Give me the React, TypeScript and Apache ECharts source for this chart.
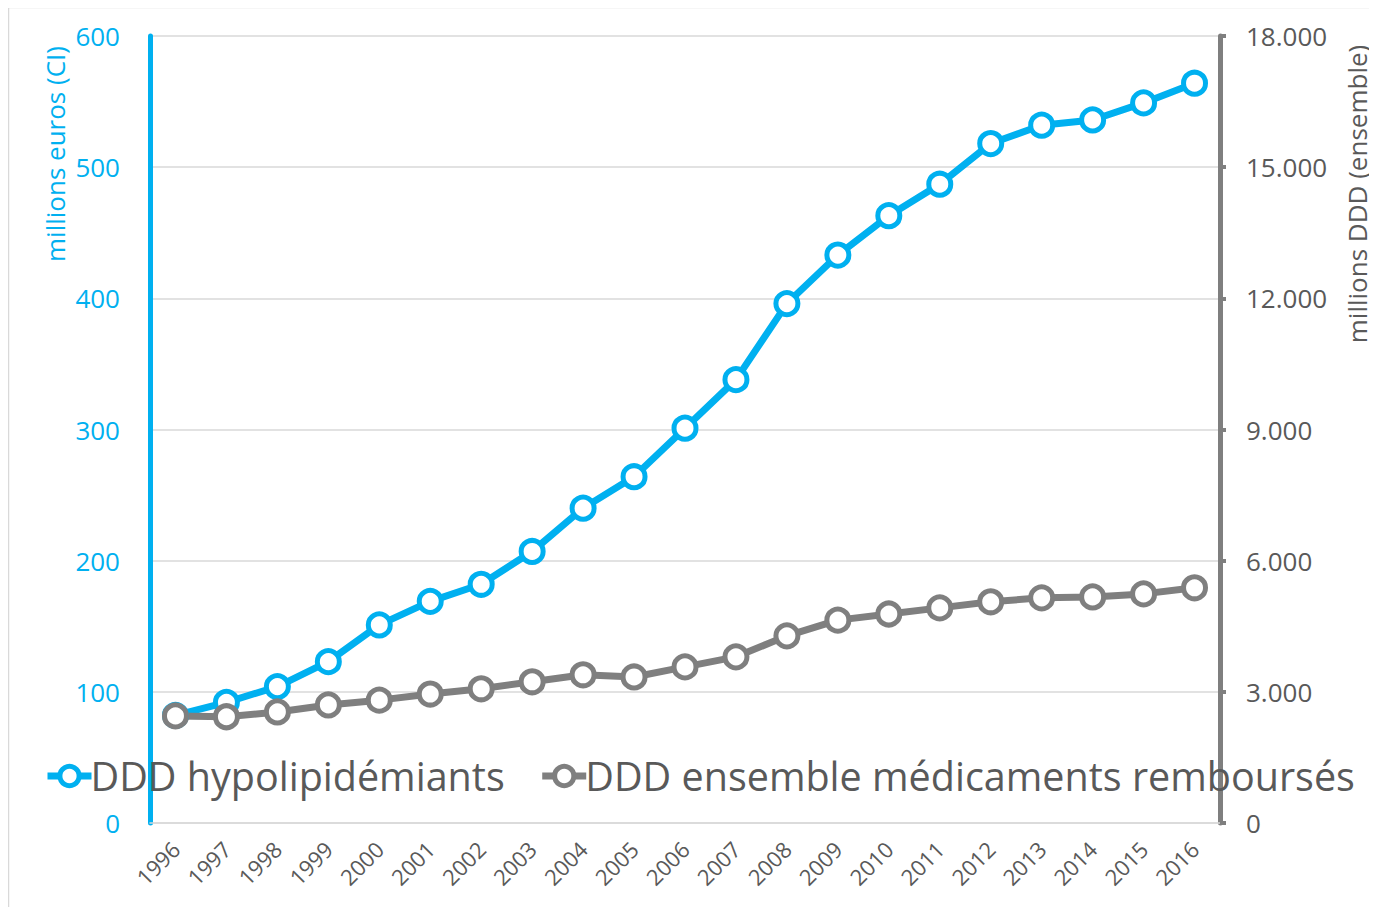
import React, { useEffect, useRef } from "react";
import * as echarts from "echarts";

const years = ["1996","1997","1998","1999","2000","2001","2002","2003","2004","2005","2006","2007","2008","2009","2010","2011","2012","2013","2014","2015","2016"];
const hypolipidemiants = [82, 92, 104, 123, 151, 169, 182, 207, 240, 264, 301, 338, 396, 433, 463, 487, 518, 532, 536, 549, 564];
const ensemble = [2450, 2430, 2540, 2700, 2810, 2950, 3070, 3230, 3390, 3340, 3570, 3800, 4280, 4640, 4780, 4920, 5060, 5150, 5170, 5240, 5380];
const leftTicks = { min: 0, max: 600, interval: 100 };
const rightTicks = { min: 0, max: 18000, interval: 3000 };

const BLUE = "#00b0f0";
const GRAY = "#7f7f7f";
const TEXT = "#595959";
const FONT = "Open Sans";

function fmtDot(v: number): string {
  return String(v).replace(/\B(?=(\d{3})+(?!\d))/g, ".");
}

export default function App() {
  const ref = useRef<HTMLDivElement>(null);
  useEffect(() => {
    if (!ref.current) return;
    const chart = echarts.init(ref.current, undefined, { renderer: "svg" });
    chart.setOption({
      animation: false,
      backgroundColor: "#ffffff",
      textStyle: { fontFamily: FONT },
      grid: { left: 142, right: 157, top: 28, bottom: 84, containLabel: false },
      legend: {
        left: 31,
        top: 743,
        itemWidth: 44,
        itemHeight: 24,
        itemGap: 34,
        lineStyle: { width: 7 },
        itemStyle: { borderWidth: 5 },
        textStyle: { fontFamily: FONT, fontSize: 39.5, color: TEXT, padding: [0, 0, 0, -6] },
        data: ["DDD hypolipidémiants", "DDD ensemble médicaments remboursés"],
      },
      xAxis: {
        type: "category",
        data: years,
        boundaryGap: true,
        axisLine: { show: true, lineStyle: { color: "#d9d9d9", width: 1.5 } },
        axisTick: { show: false },
        axisLabel: { rotate: 45, fontSize: 22, color: TEXT, margin: 22, fontFamily: FONT },
      },
      yAxis: [
        {
          type: "value",
          position: "left",
          min: leftTicks.min,
          max: leftTicks.max,
          interval: leftTicks.interval,
          axisLine: { show: true, lineStyle: { color: BLUE, width: 5 } },
          axisTick: { show: false },
          axisLabel: { color: BLUE, fontSize: 26, margin: 30, fontFamily: FONT },
          splitLine: { show: true, lineStyle: { color: "#d9d9d9", width: 1.5 } },
        },
        {
          type: "value",
          position: "right",
          min: rightTicks.min,
          max: rightTicks.max,
          interval: rightTicks.interval,
          axisLine: { show: true, lineStyle: { color: GRAY, width: 5 } },
          axisTick: { show: true, length: 6, lineStyle: { color: GRAY, width: 4 } },
          axisLabel: { color: TEXT, fontSize: 26, margin: 26, fontFamily: FONT, formatter: (v: number) => fmtDot(v) },
          splitLine: { show: false },
        },
      ],
      series: [
        {
          name: "DDD hypolipidémiants",
          type: "line",
          yAxisIndex: 0,
          data: hypolipidemiants,
          symbol: "circle",
          symbolSize: 22,
          lineStyle: { color: BLUE, width: 7 },
          itemStyle: { color: "#ffffff", borderColor: BLUE, borderWidth: 5 },
          color: BLUE,
        },
        {
          name: "DDD ensemble médicaments remboursés",
          type: "line",
          yAxisIndex: 1,
          data: ensemble,
          symbol: "circle",
          symbolSize: 22,
          lineStyle: { color: GRAY, width: 7 },
          itemStyle: { color: "#ffffff", borderColor: GRAY, borderWidth: 5 },
          color: GRAY,
        },
      ],
      graphic: [
        {
          type: "rect",
          shape: { x: 0.5, y: -0.5, width: 1400, height: 920 },
          style: { fill: "none", stroke: "#d9d9d9", lineWidth: 1.5 },
          silent: true,
        },
        {
          type: "text",
          x: 47,
          y: 146,
          rotation: Math.PI / 2,
          style: { text: "millions euros (CI)", fill: BLUE, fontSize: 26, fontFamily: FONT, align: "center", verticalAlign: "middle" },
        },
        {
          type: "text",
          x: 1349,
          y: 186,
          rotation: Math.PI / 2,
          style: { text: "millions DDD (ensemble)", fill: TEXT, fontSize: 26, fontFamily: FONT, align: "center", verticalAlign: "middle" },
        },
      ],
    });
    return () => chart.dispose();
  }, []);
  return <div ref={ref} style={{ width: 1369, height: 899 }} />;
}
